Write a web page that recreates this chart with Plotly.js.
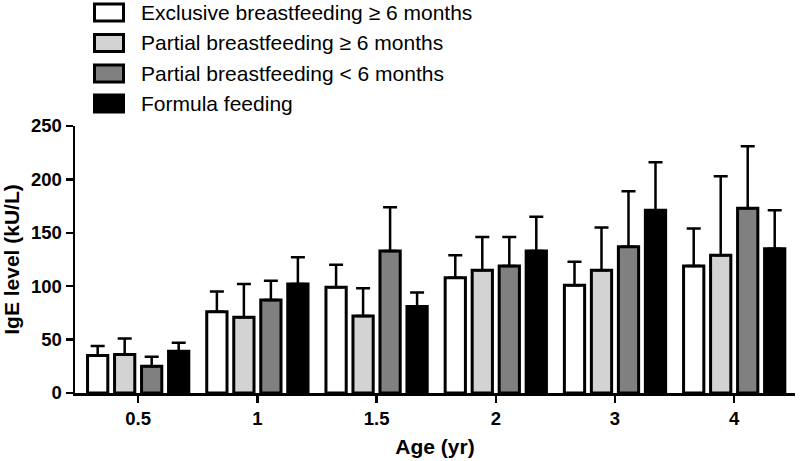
<!DOCTYPE html>
<html>
<head>
<meta charset="utf-8">
<script src="https://cdn.plot.ly/plotly-3.0.1.min.js"></script>
<style>
  html, body { margin: 0; padding: 0; background: #fff; }
  #chart { width: 800px; height: 461px; }
</style>
</head>
<body>
<div id="chart"></div>
<script>
// Age groups (categories on the x axis)
const ages = ['0.5', '1', '1.5', '2', '3', '4'];

// Series names and fills
const seriesNames = [
    'Exclusive breastfeeding \u2265 6 months',
    'Partial breastfeeding \u2265 6 months',
    'Partial breastfeeding < 6 months',
    'Formula feeding'
];
const seriesColors = ['#ffffff', '#d3d3d3', '#808080', '#000000'];

// Mean IgE level (kU/L) per age
const exclusiveBf = [35, 76, 99, 108, 101, 119];
const partialLong = [36, 71, 72, 115, 115, 129];
const partialShort = [25, 87, 133, 119, 137, 173];
const formulaFeeding = [39, 102, 81, 133, 171, 135];

// Upper error (kU/L)
const exclusiveErr = [9, 19, 21, 21, 22, 35];
const partialLongErr = [15, 31, 26, 31, 40, 74];
const partialShortErr = [9, 18, 41, 27, 52, 58];
const formulaErr = [8, 25, 13, 32, 45, 36];

const means = [exclusiveBf, partialLong, partialShort, formulaFeeding];
const errs = [exclusiveErr, partialLongErr, partialShortErr, formulaErr];

// Plot area in pixels (used to place the hand made legend)
const M = {l: 75, r: 5, t: 126, b: 68};
const W = 800, H = 461;
const plotW = W - M.l - M.r;
const plotH = H - M.t - M.b;
const pxX = px => (px - M.l) / plotW;
const pxY = py => (H - M.b - py) / plotH;

const traces = seriesNames.map((name, i) => ({
    type: 'bar',
    name: name,
    x: ages,
    y: means[i],
    marker: {color: seriesColors[i], line: {color: '#000', width: 3}},
    error_y: {
        type: 'data',
        symmetric: false,
        array: errs[i],
        arrayminus: errs[i].map(() => 0),
        color: '#000',
        thickness: 2.5,
        width: 7
    },
    showlegend: false,
    hoverinfo: 'x+y'
}));

// Legend: boxes + labels above the plot
const rowY = [12.5, 43, 73.5, 103.5];
const shapes = [];
const annotations = [];
seriesNames.forEach((name, i) => {
    shapes.push({
        type: 'rect', xref: 'paper', yref: 'paper',
        x0: pxX(94.5), x1: pxX(123.5),
        y0: pxY(rowY[i] + 8.5), y1: pxY(rowY[i] - 8.5),
        fillcolor: seriesColors[i],
        line: {color: '#000', width: 3}
    });
    annotations.push({
        xref: 'paper', yref: 'paper',
        x: pxX(139), y: pxY(rowY[i]),
        xanchor: 'left', yanchor: 'middle',
        text: name, showarrow: false,
        font: {size: 21, color: '#000'}
    });
});

const layout = {
    width: W,
    height: H,
    margin: M,
    paper_bgcolor: '#fff',
    plot_bgcolor: '#fff',
    font: {family: 'Liberation Sans, Arial, sans-serif', color: '#000'},
    barmode: 'group',
    bargap: 0.094,
    bargroupgap: 0.25,
    xaxis: {
        type: 'category',
        range: [-0.53, 5.51],
        showline: true, linecolor: '#000', linewidth: 2.5,
        ticks: 'outside', ticklen: 7, tickwidth: 2.5, tickcolor: '#000',
        tickfont: {size: 18.5, weight: 'bold'},
        showgrid: false, zeroline: false,
        title: {text: 'Age (yr)', font: {size: 21, weight: 'bold'}, standoff: 12}
    },
    yaxis: {
        range: [0, 250],
        dtick: 50,
        showline: true, linecolor: '#000', linewidth: 2.5,
        ticks: 'outside', ticklen: 7, tickwidth: 2.5, tickcolor: '#000',
        tickfont: {size: 18.5, weight: 'bold'},
        showgrid: false, zeroline: false,
        title: {text: 'IgE level (kU/L)', font: {size: 21, weight: 'bold'}, standoff: 6}
    },
    shapes: shapes,
    annotations: annotations
};

Plotly.newPlot('chart', traces, layout, {displayModeBar: false, staticPlot: true});
</script>
</body>
</html>
